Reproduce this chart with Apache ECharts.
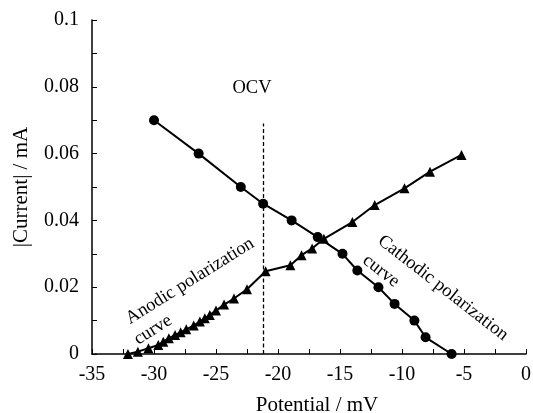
<!DOCTYPE html>
<html>
<head>
<meta charset="utf-8">
<script src="https://cdn.jsdelivr.net/npm/echarts@6/dist/echarts.min.js"></script>
<style>
html,body{margin:0;padding:0;background:#fff;}
#c{width:533px;height:413px;}
</style>
</head>
<body>
<div id="c"></div>
<script>
var cathodicX = [-30, -26.4, -23, -21.2, -18.9, -16.8, -14.8, -13.6, -11.9, -10.6, -9, -8.1, -6];
var cathodicY = [0.070, 0.060, 0.050, 0.045, 0.040, 0.035, 0.030, 0.025, 0.020, 0.015, 0.010, 0.005, 0];
var anodicX = [-32.1, -31.3, -30.45, -29.65, -29.25, -28.8, -28.3, -27.85, -27.4, -26.8, -26.3, -25.9, -25.5, -25.0, -24.35, -23.55, -22.5, -21.0, -19.0, -18.1, -17.25, -16.3, -14.0, -12.2, -9.8, -7.74, -5.2];
var anodicY = [0, 0.0007, 0.0017, 0.0027, 0.0037, 0.0047, 0.0057, 0.0065, 0.0074, 0.0085, 0.0097, 0.0107, 0.0117, 0.013, 0.0148, 0.0166, 0.0194, 0.0248, 0.0266, 0.0296, 0.0316, 0.0345, 0.0395, 0.0446, 0.0496, 0.0546, 0.0596];
var ocvX = -21.2;
var ocvTop = 0.069;
var xName = 'Potential / mV';
var yName = '|Current| / mA';

function pairs(xs, ys){ return xs.map(function(x,i){ return [x, ys[i]]; }); }

var FONT = 'Liberation Serif';
var ANN = '18.5px "Liberation Serif"';
var chart = echarts.init(document.getElementById('c'));
chart.setOption({
  animation: false,
  backgroundColor: '#fff',
  textStyle: {fontFamily: FONT, color: '#000'},
  grid: {left: 92, right: 7, top: 20, bottom: 59, containLabel: false, outerBoundsMode: 'none'},
  xAxis: {
    type: 'value', min: -35, max: 0, interval: 5,
    name: xName, nameLocation: 'middle', nameGap: 41,
    nameTextStyle: {fontFamily: FONT, fontSize: 21, color: '#000', padding: [0, 0, 0, 16]},
    axisLine: {onZero: false, lineStyle: {color: '#000', width: 1.5}},
    axisTick: {inside: true, length: 5, lineStyle: {color: '#000', width: 1}},
    minorTick: {show: true, splitNumber: 2, length: 5, lineStyle: {color: '#000', width: 1}},
    axisLabel: {fontFamily: FONT, fontSize: 20, color: '#000', margin: 11},
    splitLine: {show: false}
  },
  yAxis: {
    type: 'value', min: 0, max: 0.1, interval: 0.02,
    name: yName, nameLocation: 'middle', nameGap: 60,
    nameTextStyle: {fontFamily: FONT, fontSize: 21, color: '#000'},
    axisLine: {onZero: false, lineStyle: {color: '#000', width: 1.5}},
    axisTick: {inside: true, length: 5, lineStyle: {color: '#000', width: 1}},
    minorTick: {show: true, splitNumber: 2, length: 5, lineStyle: {color: '#000', width: 1}},
    axisLabel: {fontFamily: FONT, fontSize: 20, color: '#000', margin: 13,
      formatter: function(v){ return v === 0 ? '0' : String(+v.toFixed(2)); }},
    splitLine: {show: false}
  },
  series: [
    {
      type: 'line', data: pairs(anodicX, anodicY),
      symbol: 'triangle', symbolSize: 10,
      lineStyle: {color: '#000', width: 2},
      itemStyle: {color: '#000'},
      markLine: {
        silent: true, symbol: 'none', label: {show: false},
        lineStyle: {color: '#000', type: [4, 2.5], width: 1.3},
        data: [[{coord: [ocvX, 0]}, {coord: [ocvX, ocvTop]}]]
      }
    },
    {
      type: 'line', data: pairs(cathodicX, cathodicY),
      symbol: 'circle', symbolSize: 10,
      lineStyle: {color: '#000', width: 2},
      itemStyle: {color: '#000'}
    }
  ],
  graphic: [
    {type: 'text', x: 252, y: 88, style: {text: 'OCV', font: ANN, fill: '#000', align: 'center', verticalAlign: 'middle'}},
    {type: 'text', x: 190, y: 281, rotation: 32 * Math.PI / 180, style: {text: 'Anodic polarization', font: ANN, fill: '#000', align: 'center', verticalAlign: 'middle'}},
    {type: 'text', x: 153, y: 330, rotation: 32 * Math.PI / 180, style: {text: 'curve', font: ANN, fill: '#000', align: 'center', verticalAlign: 'middle'}},
    {type: 'text', x: 443, y: 288, rotation: -38 * Math.PI / 180, style: {text: 'Cathodic polarization', font: ANN, fill: '#000', align: 'center', verticalAlign: 'middle'}},
    {type: 'text', x: 381, y: 271, rotation: -38 * Math.PI / 180, style: {text: 'curve', font: ANN, fill: '#000', align: 'center', verticalAlign: 'middle'}}
  ]
});
</script>
</body>
</html>
